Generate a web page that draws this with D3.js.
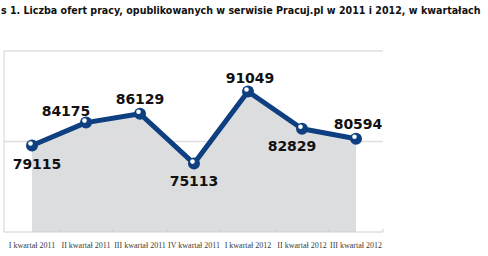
<!DOCTYPE html>
<html>
<head>
<meta charset="utf-8">
<script src="https://cdn.jsdelivr.net/npm/d3@7"></script>
<style>
  body { margin: 0; background: #fff; }
  svg { display: block; }
</style>
</head>
<body>
<div id="chart"></div>
<script>
const quarters = ["I kwartał 2011", "II kwartał 2011", "III kwartał 2011", "IV kwartał 2011",
                  "I kwartał 2012", "II kwartał 2012", "III kwartał 2012"];
const offers = [79115, 84175, 86129, 75113, 91049, 82829, 80594];
const gridValues = [60000, 80000, 100000];

// label placement for each point: [dx, dy] from the marker
const labelOffsets = [[5, 23], [-20, -7], [0, -10], [0, 22], [2, -9], [-10, 22], [2, -10]];

const width = 488, height = 256;
const plot = { left: 5, right: 383, top: 51, bottom: 232 };

const svg = d3.select("#chart")
    .append("svg")
    .attr("width", width)
    .attr("height", height);

// Title (starts cut off, like the source image) - squeezed to fit the width
const title = svg.append("text")
    .attr("x", 0)
    .attr("y", 0)
    .style("font-family", "DejaVu Sans, Verdana, sans-serif")
    .style("font-weight", "bold")
    .style("font-size", "11px")
    .style("fill", "#111")
    .text("s 1. Liczba ofert pracy, opublikowanych w serwisie Pracuj.pl w 2011 i 2012, w kwartałach");

const titleLen = title.node().getComputedTextLength();
title.attr("transform", `translate(1,14) scale(${480 / titleLen},1)`);

const x = d3.scaleBand()
    .domain(quarters)
    .range([plot.left, plot.right])
    .padding(0);

const y = d3.scaleLinear()
    .domain([60000, 100000])
    .range([plot.bottom, plot.top]);

const cx = d => x(d) + x.bandwidth() / 2;

// Area under line
const area = d3.area()
    .x((d, i) => cx(quarters[i]))
    .y0(y(60000))
    .y1(d => y(d));

svg.append("path")
    .datum(offers)
    .attr("d", area)
    .attr("fill", "#dcdddf");

// Gridlines
svg.selectAll(".grid")
    .data(gridValues.slice(1))
    .enter()
    .append("line")
    .attr("class", "grid")
    .attr("x1", plot.left - 1)
    .attr("x2", plot.right)
    .attr("y1", d => y(d))
    .attr("y2", d => y(d))
    .attr("stroke", "#dedede")
    .attr("stroke-width", 1.5);

// Left axis line
svg.append("line")
    .attr("x1", plot.left - 1)
    .attr("x2", plot.left - 1)
    .attr("y1", y(100000))
    .attr("y2", y(60000))
    .attr("stroke", "#d4d4d4")
    .attr("stroke-width", 1);

// Bottom axis
const xAxis = svg.append("g")
    .attr("transform", `translate(0,${plot.bottom})`)
    .call(d3.axisBottom(x).tickSize(0).tickPadding(10));

xAxis.select(".domain")
    .attr("stroke", "#d0d0d0")
    .attr("d", `M${plot.left - 1},0H${plot.right}`);

xAxis.selectAll("text")
    .style("font-family", "Liberation Serif, serif")
    .style("font-size", "8px")
    .style("fill", "#3a3a3a");

// small tick marks at band edges
svg.selectAll(".tickmark")
    .data(quarters)
    .enter()
    .append("line")
    .attr("class", "tickmark")
    .attr("x1", d => x(d) + x.bandwidth())
    .attr("x2", d => x(d) + x.bandwidth())
    .attr("y1", plot.bottom - 3)
    .attr("y2", plot.bottom)
    .attr("stroke", "#cfcfcf");

// Line
const line = d3.line()
    .x((d, i) => cx(quarters[i]))
    .y(d => y(d));

svg.append("path")
    .datum(offers)
    .attr("d", line)
    .attr("fill", "none")
    .attr("stroke", "#0e3f80")
    .attr("stroke-width", 5)
    .attr("stroke-linejoin", "round");

// Markers
const markers = svg.selectAll(".marker")
    .data(offers)
    .enter()
    .append("g")
    .attr("class", "marker")
    .attr("transform", (d, i) => `translate(${cx(quarters[i])},${y(d)})`);

markers.append("circle")
    .attr("r", 6)
    .attr("fill", "#0e3f80");

markers.append("circle")
    .attr("cx", -1.5)
    .attr("cy", -2)
    .attr("r", 2.3)
    .attr("fill", "#fff");

// Value labels
svg.selectAll(".value")
    .data(offers)
    .enter()
    .append("text")
    .attr("class", "value")
    .attr("x", (d, i) => cx(quarters[i]) + labelOffsets[i][0])
    .attr("y", (d, i) => y(d) + labelOffsets[i][1])
    .attr("text-anchor", "middle")
    .style("font-family", "DejaVu Sans, Verdana, sans-serif")
    .style("font-weight", "bold")
    .style("font-size", "14px")
    .style("fill", "#111")
    .text(d => d);
</script>
</body>
</html>
